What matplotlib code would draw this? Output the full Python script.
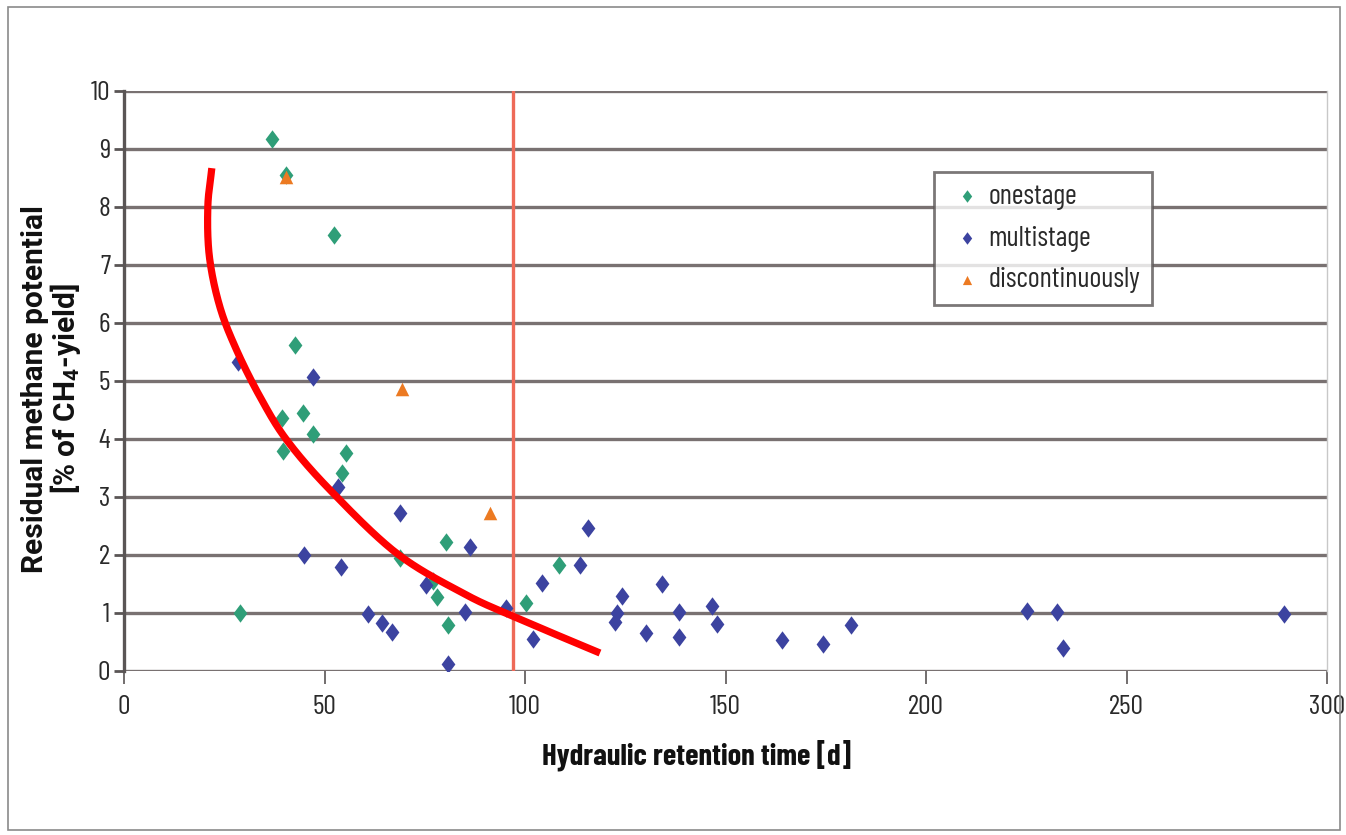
import numpy as np
import matplotlib
matplotlib.use("Agg")
import matplotlib.pyplot as plt
from matplotlib.patches import Rectangle

plt.rcParams['font.family'] = ['Barlow Condensed', 'Roboto Condensed', 'DejaVu Sans']
plt.rcParams['mathtext.fontset'] = 'custom'
plt.rcParams['mathtext.rm'] = 'Roboto:bold'
plt.rcParams['mathtext.it'] = 'Roboto:bold'
plt.rcParams['mathtext.bf'] = 'Roboto:bold'
plt.rcParams['mathtext.default'] = 'rm'

# ---------------- data ----------------
onestage_x = [36.9, 40.3, 52.4, 42.6, 44.6, 39.3, 47.1, 39.6, 29.0, 55.4, 54.4,
              68.8, 80.3, 78.0, 77.0, 80.9, 100.2, 108.6]
onestage_y = [9.17, 8.55, 7.52, 5.62, 4.45, 4.36, 4.09, 3.80, 1.00, 3.76, 3.41,
              1.94, 2.23, 1.28, 1.55, 0.79, 1.18, 1.83]

multistage_x = [28.5, 47.1, 45.0, 53.4, 54.1, 68.8, 86.3, 75.3, 60.9, 64.3, 66.8,
                85.0, 80.9, 95.3, 101.9, 104.2, 113.7, 115.6, 124.3, 123.0, 122.5,
                130.2, 134.1, 138.5, 138.5, 146.6, 147.8, 164.0, 174.4, 181.2,
                225.1, 232.6, 234.2, 289.4]
multistage_y = [5.32, 5.07, 2.00, 3.18, 1.79, 2.73, 2.13, 1.48, 0.98, 0.82, 0.68,
                1.01, 0.12, 1.08, 0.56, 1.51, 1.83, 2.47, 1.29, 1.00, 0.85,
                0.65, 1.50, 1.01, 0.58, 1.12, 0.81, 0.53, 0.47, 0.79,
                1.04, 1.01, 0.39, 0.98]

discont_x = [40.3, 69.4, 91.3]
discont_y = [8.52, 4.86, 2.72]

hrt_threshold = 97.0

# hand-drawn trend curve (annotation)
curve_x = [21.9, 20.9, 21.3, 23.9, 28.1, 33.9, 40.6, 51.4, 68.0, 84.6, 97.1, 118.7]
curve_y = [8.67, 8.00, 7.14, 6.28, 5.53, 4.73, 3.98, 3.12, 2.03, 1.34, 0.94, 0.31]

x_ticks = [0, 50, 100, 150, 200, 250, 300]
y_ticks = list(range(0, 11))

x_label = 'Hydraulic retention time [d]'
y_label = 'Residual methane potential\n[% of CH$_4$-yield]'
series_names = ['onestage', 'multistage', 'discontinuously']

# ---------------- helpers ----------------
def catmull_rom(xs, ys, n=30):
    p = np.column_stack([xs, ys]).astype(float)
    scale = np.array([4.01, 58.0])
    p = p * scale
    p = np.vstack([2 * p[0] - p[1], p, 2 * p[-1] - p[-2]])
    out = []
    for i in range(1, len(p) - 2):
        p0, p1, p2, p3 = p[i - 1], p[i], p[i + 1], p[i + 2]
        t = np.linspace(0, 1, n, endpoint=False)[:, None]
        seg = 0.5 * ((2 * p1) + (-p0 + p2) * t + (2 * p0 - 5 * p1 + 4 * p2 - p3) * t ** 2
                     + (-p0 + 3 * p1 - 3 * p2 + p3) * t ** 3)
        out.append(seg)
    out.append(p[-2][None, :])
    out = np.vstack(out) / scale
    return out[:, 0], out[:, 1]

diamond = [(0, 1), (0.75, 0), (0, -1), (-0.75, 0), (0, 1)]

green = '#2f9e78'
blue = '#3c43a0'
orange = '#ec7a22'
grid_col = '#6a6262'
text_col = '#2a2a2a'

# ---------------- figure ----------------
fig = plt.figure(figsize=(13.46, 8.35), dpi=100)
fig.patches.append(Rectangle((8 / 1346, 5 / 835), 1332 / 1346, 823 / 835,
                             transform=fig.transFigure, fill=False,
                             edgecolor='#8a8a8a', linewidth=1.2))

ax = fig.add_axes([124 / 1346, 1 - 671 / 835, 1203 / 1346, 580 / 835])
ax.set_xlim(0, 300)
ax.set_ylim(0, 10)

for y in y_ticks:
    ax.axhline(y, color=grid_col, linewidth=2.4, zorder=1, alpha=0.9)

ax.axvline(hrt_threshold, color='#ee6a58', linewidth=2.4, zorder=2)

ax.scatter(onestage_x, onestage_y, marker=diamond, s=175, color=green,
           linewidths=0, zorder=3, label=series_names[0])
ax.scatter(multistage_x, multistage_y, marker=diamond, s=175, color=blue,
           linewidths=0, zorder=3, label=series_names[1])
ax.scatter(discont_x, discont_y, marker='^', s=95, color=orange,
           linewidths=0, zorder=4, label=series_names[2])

cx, cy = catmull_rom(curve_x, curve_y)
ax.plot(cx, cy, color='#ff0000', linewidth=5.2, solid_capstyle='butt', zorder=5,
        clip_on=False)

ax.spines['top'].set_visible(False)
ax.spines['right'].set_color('#c8c8c8')
ax.spines['right'].set_linewidth(1.0)
ax.spines['left'].set_color('#5a5555')
ax.spines['left'].set_linewidth(2.4)
ax.spines['bottom'].set_visible(False)

ax.set_xticks(x_ticks)
ax.set_yticks(y_ticks)
ax.tick_params(axis='y', direction='out', length=7, width=2, color='#5a5555',
               labelsize=20, labelcolor=text_col, pad=3)
ax.tick_params(axis='x', direction='out', length=9, width=1.2, color='#5a5555',
               labelsize=20, labelcolor=text_col, pad=8)

ax.set_xlabel(x_label, fontsize=22, fontweight='bold', color='#111111')
ax.xaxis.set_label_coords((697 - 124) / 1203, -0.118)

fig.text(52 / 1346, 1 - 389 / 835, y_label, rotation=90, ha='center', va='center',
         multialignment='center', fontsize=21.5, fontweight='bold',
         family=['Roboto', 'DejaVu Sans'], linespacing=0.95, color='#111111')

leg = ax.legend(loc='upper left', bbox_to_anchor=(810 / 1203, 1 - 81 / 580),
                frameon=True, fancybox=False, fontsize=20.5, handletextpad=0.0,
                borderpad=0.42, labelspacing=0.55, handlelength=1.5,
                markerscale=0.68, borderaxespad=0)
leg.get_frame().set_edgecolor('#5a5555')
leg.get_frame().set_linewidth(2.0)
for t in leg.get_texts():
    t.set_color(text_col)
leg.set_zorder(6)

fig.savefig('out.png', dpi=100)
